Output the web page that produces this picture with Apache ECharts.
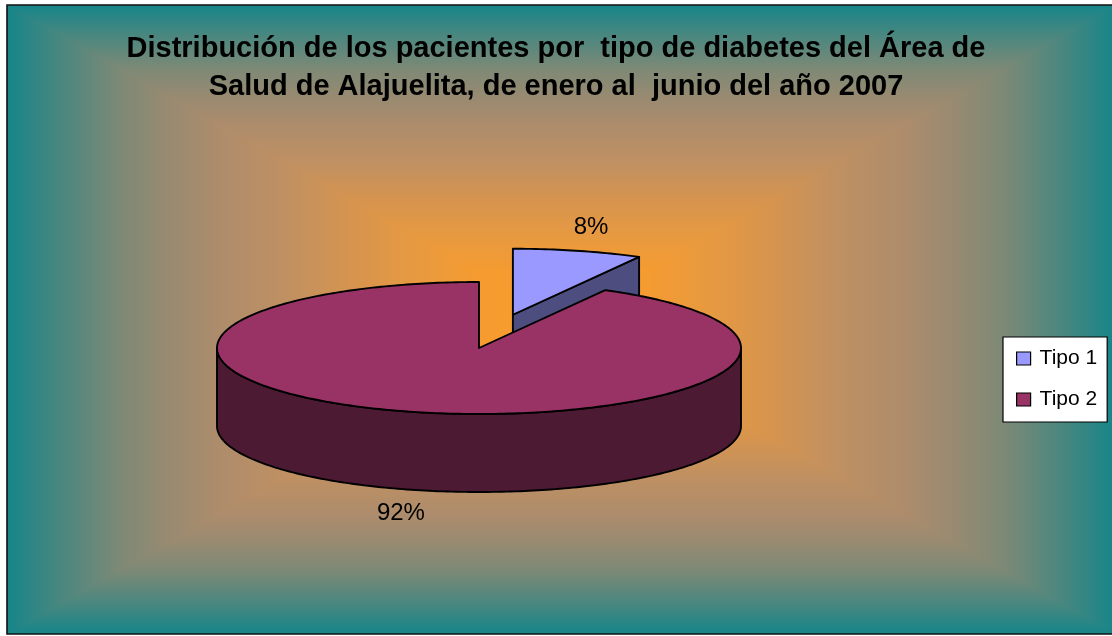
<!DOCTYPE html>
<html>
<head>
<meta charset="utf-8">
<title>Distribución de los pacientes por tipo de diabetes</title>
<script src="https://cdn.jsdelivr.net/npm/echarts@6/dist/echarts.min.js"></script>
<style>
  html, body { margin: 0; padding: 0; background: #ffffff; }
  #chart { width: 1112px; height: 636px; }
</style>
</head>
<body>
<div id="chart"></div>
<script>
// Patients by diabetes type, Área de Salud de Alajuelita, Jan–Jun 2007
const categories = ['Tipo 1', 'Tipo 2'];
const values = [8, 92];
const explodedSlices = ['Tipo 1'];

// Palette: top face and darker side face for each slice
const topColors = ['#9999ff', '#993366'];
const sideColors = ['#4d4d80', '#4c1a33'];

// Projected 3D pie geometry (ellipse radii, thickness, explosion distance)
const PIE = { cx: 479, cy: 348, rx: 262, ry: 66, depth: 78, explode: 0.52 };
const FONT = '"Liberation Sans", Arial, sans-serif';

// Chart area with a rectangular "from centre" fill
const AREA = { x0: 7, y0: 5, x1: 1116, y1: 634 };
const fillStops = [
  [0.00, '#fa9c2a'],
  [0.15, '#f59b30'],
  [0.25, '#e99a3e'],
  [0.38, '#d6944f'],
  [0.50, '#bf9062'],
  [0.62, '#ad8c6c'],
  [0.72, '#958a72'],
  [0.80, '#7c8976'],
  [0.90, '#4b877f'],
  [1.00, '#168589']
];

// Gradient running from an outer edge (offset 0) to the centre (offset 1)
function edgeGradient(x, y, x2, y2) {
  return {
    type: 'linear', global: true, x: x, y: y, x2: x2, y2: y2,
    colorStops: fillStops.map(function (s) { return { offset: 1 - s[0], color: s[1] }; }).reverse()
  };
}
// Gradient across the whole height: edge -> centre -> edge
function verticalGradient(y0, y1) {
  const stops = [];
  fillStops.forEach(function (s) {
    stops.push({ offset: (1 - s[0]) / 2, color: s[1] });
    if (s[0] > 0) stops.push({ offset: (1 + s[0]) / 2, color: s[1] });
  });
  stops.sort(function (p, q) { return p.offset - q.offset; });
  return { type: 'linear', global: true, x: 0, y: y0, x2: 0, y2: y1, colorStops: stops };
}

function backgroundElements() {
  const a = AREA;
  const cx = (a.x0 + a.x1) / 2, cy = (a.y0 + a.y1) / 2;
  return [
    // top/bottom bands fill the whole area; side wedges are laid over them
    { type: 'rect', z: -11, silent: true,
      shape: { x: a.x0, y: a.y0, width: a.x1 - a.x0, height: a.y1 - a.y0 },
      style: { fill: verticalGradient(a.y0, a.y1) } },
    { type: 'polygon', z: -10, silent: true, shape: { points: [[a.x0, a.y0], [a.x0, a.y1], [cx, cy]] },
      style: { fill: edgeGradient(a.x0, cy, cx, cy) } },
    { type: 'polygon', z: -10, silent: true, shape: { points: [[a.x1, a.y0], [a.x1, a.y1], [cx, cy]] },
      style: { fill: edgeGradient(a.x1, cy, cx, cy) } },
    { type: 'rect', z: 50, silent: true,
      shape: { x: a.x0, y: a.y0, width: a.x1 - a.x0, height: a.y1 - a.y0 },
      style: { fill: null, stroke: '#111', lineWidth: 1.6 } }
  ];
}

// Angles run clockwise from 12 o'clock
function rimPoint(theta, ox, oy, dz) {
  return [PIE.cx + ox + PIE.rx * Math.sin(theta), PIE.cy + oy - PIE.ry * Math.cos(theta) + dz];
}
function arcPoints(a, b, ox, oy, dz) {
  const n = Math.max(2, Math.ceil(Math.abs(b - a) / (Math.PI / 180)));
  const pts = [];
  for (let i = 0; i <= n; i++) pts.push(rimPoint(a + (b - a) * i / n, ox, oy, dz));
  return pts;
}

function sliceRenderer(index) {
  return function (params, api) {
    const total = values.reduce(function (s, v) { return s + v; }, 0);
    const before = values.slice(0, index).reduce(function (s, v) { return s + v; }, 0);
    const v = api.value(0);
    const a = 2 * Math.PI * before / total;
    const b = a + 2 * Math.PI * v / total;
    const m = (a + b) / 2;
    const k = explodedSlices.indexOf(categories[index]) >= 0 ? PIE.explode : 0;
    const ox = k * PIE.rx * Math.sin(m);
    const oy = -k * PIE.ry * Math.cos(m);
    const c = [PIE.cx + ox, PIE.cy + oy];
    const d = PIE.depth;
    // slices nearer the viewer are painted later
    const base = Math.round((1 - Math.cos(m)) * 20);
    const line = { stroke: '#000', lineWidth: 1.9, lineJoin: 'round' };
    const children = [];

    // curved outer wall, only the front-facing part
    const s = Math.max(a, Math.PI / 2), e = Math.min(b, 3 * Math.PI / 2);
    if (e > s) {
      const topArc = arcPoints(s, e, ox, oy, 0);
      const botArc = arcPoints(s, e, ox, oy, d).reverse();
      children.push({ type: 'polygon', z2: base, shape: { points: topArc.concat(botArc) },
        style: Object.assign({ fill: sideColors[index] }, line) });
    }
    // radial cut faces that turn towards the viewer
    [[a, -Math.sin(a)], [b, Math.sin(b)]].forEach(function (f) {
      if (f[1] > 1e-6) {
        const p = rimPoint(f[0], ox, oy, 0);
        children.push({ type: 'polygon', z2: base + 1,
          shape: { points: [c, p, [p[0], p[1] + d], [c[0], c[1] + d]] },
          style: Object.assign({ fill: sideColors[index] }, line) });
      }
    });
    // top face
    children.push({ type: 'polygon', z2: base + 2,
      shape: { points: [c].concat(arcPoints(a, b, ox, oy, 0)) },
      style: Object.assign({ fill: topColors[index] }, line) });

    // percentage label outside the rim
    const front = Math.cos(m) < 0;
    const lp = rimPoint(m, ox, oy, front ? d : 0);
    children.push({ type: 'text', z2: 200,
      x: lp[0] + Math.sin(m) * 52, y: lp[1] - Math.cos(m) * 24,
      style: { text: Math.round(v / total * 100) + '%', fill: '#000',
        fontSize: 24, fontFamily: FONT, align: 'center', verticalAlign: 'middle' } });

    return { type: 'group', children: children };
  };
}

const chart = echarts.init(document.getElementById('chart'), null, { renderer: 'canvas' });

chart.setOption({
  animation: false,
  backgroundColor: '#ffffff',
  title: {
    text: 'Distribución de los pacientes por  tipo de diabetes del Área de\nSalud de Alajuelita, de enero al  junio del año 2007',
    left: 'center',
    top: 25,
    textStyle: { fontFamily: FONT, fontSize: 29, fontWeight: 'bold', color: '#000', lineHeight: 38, align: 'center' }
  },
  legend: {
    orient: 'vertical',
    left: 1003,
    top: 337,
    data: categories,
    icon: 'rect',
    itemWidth: 14,
    itemHeight: 13,
    itemGap: 20,
    padding: [11, 10, 12, 13],
    backgroundColor: '#ffffff',
    borderColor: '#000',
    borderWidth: 1.2,
    borderRadius: 0,
    selectedMode: false,
    itemStyle: { borderColor: '#000', borderWidth: 1.2 },
    textStyle: { fontFamily: FONT, fontSize: 21, lineHeight: 20, color: '#000', padding: [0, 0, 0, 4] }
  },
  graphic: { elements: backgroundElements() },
  series: categories.map(function (name, i) {
    return {
      type: 'custom',
      name: name,
      coordinateSystem: 'none',
      silent: true,
      itemStyle: { color: topColors[i] },
      data: [{ name: name, value: [values[i]] }],
      renderItem: sliceRenderer(i)
    };
  })
});
</script>
</body>
</html>
